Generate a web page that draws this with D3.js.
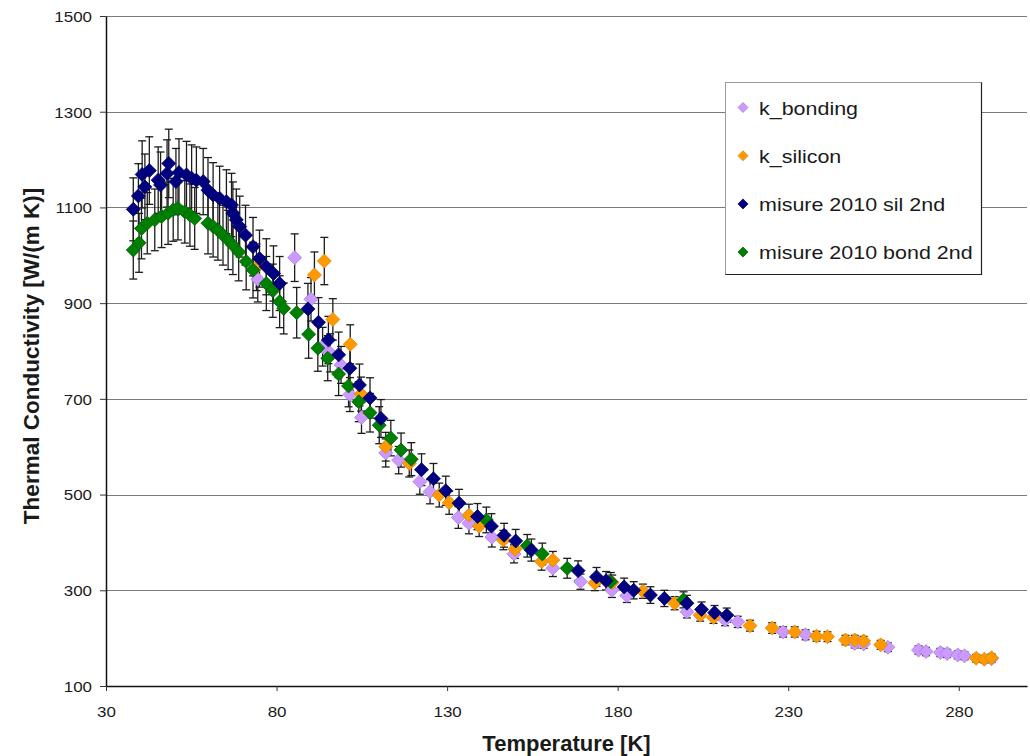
<!DOCTYPE html>
<html><head><meta charset="utf-8">
<script src="https://cdn.jsdelivr.net/npm/d3@7"></script>
<style>
body{margin:0;background:#fff;}
svg{display:block;}
text{font-family:"Liberation Sans",Arial,sans-serif;fill:#1a1a1a;}
</style>
</head><body>
<svg id="c" width="1030" height="756"></svg>
<script>
// ---------- data ----------
const seriesNames = ["k_bonding", "k_silicon", "misure 2010 sil 2nd", "misure 2010 bond 2nd"];
// [Temperature K, Thermal conductivity W/(m K)]
const kBonding = [[74.5,950],[85.3,995],[90.1,908],[93.5,809],[95.7,796],[98.9,771],[101.5,709],[104.9,661],[112.0,587],[115.8,572],[122.0,527],[125.0,506],[133.3,452],[136.4,440],[143.1,411],[149.6,376],[161.0,346],[169.1,318],[178.3,300],[182.7,289],[200.3,255],[211.5,238],[215.2,234],[228.5,213],[235.1,207],[249.5,189],[252.1,188],[259.2,181],[268.2,175],[270.4,172],[274.6,170],[276.6,168],[279.7,165],[281.7,163],[289.6,157]];
const kSilicon = [[74.1,975],[91.1,959],[94.0,988],[96.5,866],[101.6,814],[104.8,710],[112.0,600],[118.9,565],[127.7,499],[130.6,483],[136.4,457],[139.4,434],[146.5,405],[149.9,386],[157.7,360],[161.0,363],[173.3,315],[178.4,316],[187.4,298],[196.7,273],[204.2,248],[208.1,243],[218.8,226],[225.3,221],[231.9,213],[238.3,204],[241.5,203],[246.8,196],[249.5,196],[252.1,194],[257.1,186],[285.1,158],[287.5,156],[289.6,159]];
const misureSil = [[38.0,1096],[39.5,1124],[40.6,1169],[41.4,1143],[42.7,1177],[45.3,1157],[46.0,1147],[47.9,1171],[48.4,1192],[50.5,1154],[51.4,1173],[53.6,1168],[55.1,1161],[56.5,1157],[58.5,1154],[59.9,1136],[61.4,1126],[63.3,1119],[65.3,1112],[66.8,1105],[67.2,1088],[68.2,1074],[69.2,1060],[70.9,1042],[73.1,1018],[75.0,993],[77.0,976],[79.1,962],[80.9,941],[89.2,888],[92.3,860],[95.2,823],[98.2,792],[101.5,764],[104.3,729],[107.4,702],[110.6,659],[122.5,552],[126.0,533],[129.6,508],[133.5,482],[138.9,454],[143.0,434],[146.7,415],[150.1,403],[154.7,384],[168.4,341],[173.8,328],[176.6,320],[181.9,307],[184.7,300],[189.6,290],[193.7,283],[200.3,273],[204.6,260],[208.4,253],[212.0,248]];
const misureBond = [[38.0,1011],[39.7,1026],[40.4,1056],[42.1,1067],[44.3,1074],[46.3,1081],[48.2,1088],[49.7,1095],[51.1,1098],[53.1,1091],[54.6,1084],[56.0,1077],[59.9,1067],[61.4,1060],[62.8,1053],[64.3,1042],[65.8,1032],[67.2,1021],[68.9,1007],[71.1,987],[73.1,969],[77.0,941],[78.9,926],[80.9,903],[82.1,889],[85.9,880],[89.4,835],[92.1,806],[95.0,785],[98.2,752],[101.1,727],[104.1,694],[107.4,671],[110.1,645],[113.5,618],[116.5,593],[119.5,574],[141.5,447],[153.5,393],[157.9,376],[165.2,346],[178.0,318],[199.3,280]];
// percentage error bars per series (Excel-style setting)
const errorPercent = [5, 5, 6, 6];
const xTicks = [30, 80, 130, 180, 230, 280];
const yTicks = [100, 300, 500, 700, 900, 1100, 1300, 1500];

// ---------- styles ----------
const fills   = ["#CC99FF", "#FF9900", "#000080", "#008000"];
const strokes = ["#A97FE0", "#E0850A", "#00005E", "#006000"];
const seriesData = [kBonding, kSilicon, misureSil, misureBond];
const drawOrder = [0, 1, 3, 2];
const SX = 1.13; // horizontal stretch of the original's text

const svg = d3.select("#c");
const x = d3.scaleLinear().domain([30, 300]).range([106, 1027]);
const y = d3.scaleLinear().domain([100, 1500]).range([686, 16]);
const crisp = v => Math.round(v) + 0.5;

// gridlines
svg.append("g").selectAll("line").data(yTicks.filter(v => v > 100)).join("line")
  .attr("x1", x(30)).attr("x2", x(300))
  .attr("y1", d => crisp(y(d))).attr("y2", d => crisp(y(d)))
  .attr("stroke", "#7a7a7a").attr("stroke-width", 1.2);

// axes
const yAxis = svg.append("g").attr("transform", "translate(106,0)")
  .call(d3.axisLeft(y).tickValues(yTicks).tickSize(6).tickSizeOuter(0).tickFormat(d3.format("d")));
yAxis.select(".domain").attr("stroke", "#111").attr("stroke-width", 1.5);
yAxis.selectAll(".tick line").attr("stroke", "#333");
yAxis.selectAll(".tick text").attr("x", -14 / SX).attr("dy", "0.36em")
  .attr("transform", `scale(${SX},1)`).style("font-size", "15px").attr("fill", "#222");

const xAxis = svg.append("g").attr("transform", "translate(0,686)")
  .call(d3.axisBottom(x).tickValues(xTicks).tickSize(5).tickSizeOuter(0).tickFormat(d3.format("d")));
xAxis.select(".domain").attr("stroke", "#111").attr("stroke-width", 1.5);
xAxis.selectAll(".tick line").attr("stroke", "#333");
xAxis.selectAll(".tick text").attr("y", 31).attr("dy", 0)
  .attr("transform", `scale(${SX},1)`).style("font-size", "15px").attr("fill", "#222");

// axis titles
svg.append("text").attr("x", x(165)).attr("y", 751).attr("text-anchor", "middle")
  .style("font-size", "22px").style("font-weight", "bold").text("Temperature [K]");
svg.append("text").attr("transform", `translate(39,${(16 + 686) / 2 + 5}) rotate(-90)`)
  .attr("text-anchor", "middle").style("font-size", "22.5px").style("font-weight", "bold")
  .text("Thermal Conductivity [W/(m K)]");

// error bars (drawn beneath all markers)
const errG = svg.append("g");
drawOrder.forEach(si => {
  const p = errorPercent[si] / 100;
  const g = errG.append("g");
  seriesData[si].forEach(([t, k]) => {
    const cx = x(t), y1 = y(k * (1 + p)), y2 = y(k * (1 - p));
    g.append("line").attr("x1", cx).attr("x2", cx).attr("y1", y1).attr("y2", y2);
    g.append("line").attr("x1", cx - 4).attr("x2", cx + 4).attr("y1", y1).attr("y2", y1);
    g.append("line").attr("x1", cx - 4).attr("x2", cx + 4).attr("y1", y2).attr("y2", y2);
  });
  g.selectAll("line").attr("stroke", "#1c1c1c").attr("stroke-width", 1.3);
});

// markers
const diamond = r => `M0,${-r}L${r},0L0,${r}L${-r},0Z`;
drawOrder.forEach(si => {
  svg.append("g").selectAll("path").data(seriesData[si]).join("path")
    .attr("d", diamond(7))
    .attr("transform", d => `translate(${x(d[0])},${y(d[1])})`)
    .attr("fill", fills[si]).attr("stroke", strokes[si]).attr("stroke-width", 0.8);
});

// legend
const lg = svg.append("g");
lg.append("rect").attr("x", 725.5).attr("y", 82.5).attr("width", 256).attr("height", 192)
  .attr("fill", "#fff").attr("stroke", "#9a9a9a").attr("stroke-width", 1);
lg.append("path").attr("d", "M981.5,82.5V274.5H725.5").attr("fill", "none").attr("stroke", "#222").attr("stroke-width", 1.2);
seriesNames.forEach((name, i) => {
  const cy = 107.5 + i * 48.2;
  lg.append("path").attr("d", diamond(5)).attr("transform", `translate(743,${cy})`)
    .attr("fill", fills[i]).attr("stroke", strokes[i]).attr("stroke-width", 0.8);
  lg.append("text").attr("transform", `translate(759,${cy + 7}) scale(${SX},1)`)
    .style("font-size", "19px").text(name);
});
</script>
</body></html>
